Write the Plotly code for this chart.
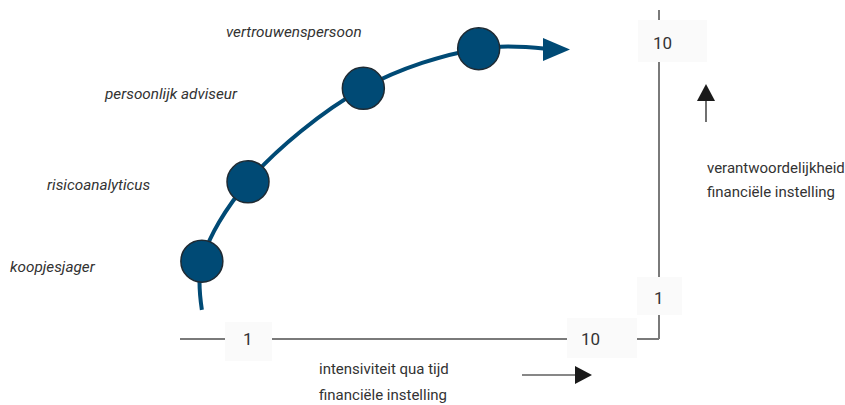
import plotly.graph_objects as go

# rollen van de klant, geplaatst op intensiviteit (x) en verantwoordelijkheid (y), schaal 1-10
rollen = ["koopjesjager", "risicoanalyticus", "persoonlijk adviseur", "vertrouwenspersoon"]
intensiviteit = [-0.2, 1.0, 4.0, 7.0]
verantwoordelijkheid = [2.3, 5.1, 8.4, 9.8]

# verloop van de curve (begin, rollen, einde bij de pijlpunt)
curve_x = [-0.2] + intensiviteit + [8.75]
curve_y = [0.58] + verantwoordelijkheid + [9.8]

schaal_ticks = [1, 10]
schaal_labels = ["1", "10"]

W, H = 845, 405
FONT = "Roboto, sans-serif"
BLAUW = "#004a75"
GRIJS = "#7a7a7a"
TEKST = "#333333"
VLAK = "#fafafa"


def px(x, y):
    # pixelpositie -> paper coördinaten
    return x / W, 1 - y / H


fig = go.Figure()

fig.add_trace(go.Scatter(
    x=curve_x, y=curve_y, mode="lines",
    line=dict(color=BLAUW, width=4, shape="spline", smoothing=1.0),
    hoverinfo="skip",
))
fig.add_trace(go.Scatter(
    x=intensiviteit, y=verantwoordelijkheid, mode="markers",
    marker=dict(size=42, color=BLAUW, line=dict(color="#1e2a33", width=1.5)),
    text=rollen, hoverinfo="text",
))

shapes = []

# assen (L-vorm)
x0, y0 = px(180, 339)
x1, _ = px(659, 339)
shapes.append(dict(type="line", xref="paper", yref="paper", x0=x0, y0=y0, x1=x1, y1=y0,
                   line=dict(color=GRIJS, width=2)))
_, yt = px(659, 10)
shapes.append(dict(type="line", xref="paper", yref="paper", x0=x1, y0=y0, x1=x1, y1=yt,
                   line=dict(color=GRIJS, width=2)))

# lichte vlakken achter de schaalwaarden, die de aslijnen onderbreken
for (bx0, by0, bx1, by1) in [(225, 322, 272, 361), (567, 318, 637, 358),
                             (638, 20, 707, 62), (637, 277, 682, 315)]:
    a, b = px(bx0, by1)
    c, d = px(bx1, by0)
    shapes.append(dict(type="rect", xref="paper", yref="paper", x0=a, y0=b, x1=c, y1=d,
                       fillcolor=VLAK, line=dict(width=0)))


def driehoek(punten, kleur):
    pts = [px(a, b) for a, b in punten]
    path = "M " + " L ".join(f"{a},{b}" for a, b in pts) + " Z"
    return dict(type="path", xref="paper", yref="paper", path=path,
                fillcolor=kleur, line=dict(color=kleur, width=0))


# pijlpunt aan het eind van de curve
shapes.append(driehoek([(543, 38), (570, 49.5), (543, 61)], BLAUW))

# pijl onder de x-as
a, b = px(522, 375)
c, _ = px(577, 375)
shapes.append(dict(type="line", xref="paper", yref="paper", x0=a, y0=b, x1=c, y1=b,
                   line=dict(color="#111111", width=1.2)))
shapes.append(driehoek([(575, 366), (592, 375), (575, 384)], "#1a1a1a"))

# pijl naast de y-as
a, b = px(706, 122)
_, d = px(706, 99)
shapes.append(dict(type="line", xref="paper", yref="paper", x0=a, y0=b, x1=a, y1=d,
                   line=dict(color="#111111", width=1.2)))
shapes.append(driehoek([(697, 101), (706, 84), (715, 101)], "#1a1a1a"))

annotations = []

# schaalwaarden op de assen
as_y = -0.447
as_x = 11.69
for t, lab in zip(schaal_ticks, schaal_labels):
    annotations.append(dict(x=t, y=as_y, xref="x", yref="y", text=lab, showarrow=False,
                            xshift=-4 if lab == "10" else 0,
                            font=dict(family=FONT, size=17, color=TEKST)))
    annotations.append(dict(x=as_x, y=t, xref="x", yref="y", text=lab, showarrow=False,
                            xshift=4 if lab == "10" else 0,
                            font=dict(family=FONT, size=17, color=TEKST)))

# rollabels links van de bolletjes
label_pos = [(8, 267), (45, 185), (102, 94), (224, 32)]
for rol, (lx, ly) in zip(rollen, label_pos):
    ax_, ay_ = px(lx, ly)
    annotations.append(dict(x=ax_, y=ay_, xref="paper", yref="paper", text=rol,
                            showarrow=False, xanchor="left", yanchor="middle",
                            font=dict(family=FONT, size=15.3, color=TEKST, style="italic")))

# astitels
for tekst, (lx, ly) in [("intensiviteit qua tijd", (317, 369)),
                        ("financiële instelling", (317, 395)),
                        ("verantwoordelijkheid", (705, 168)),
                        ("financiële instelling", (705, 192))]:
    ax_, ay_ = px(lx, ly)
    annotations.append(dict(x=ax_, y=ay_, xref="paper", yref="paper", text=tekst,
                            showarrow=False, xanchor="left", yanchor="middle",
                            font=dict(family=FONT, size=15, color=TEKST)))

# as-bereik zo dat 1 en 10 op de juiste pixels vallen (38.44 px/eenheid horizontaal, 28.33 verticaal)
sx, sy = 346 / 9, 255 / 9
xr0 = 1 - 248 / sx
yr1 = 1 + 298 / sy

fig.update_layout(
    width=W, height=H,
    margin=dict(l=0, r=0, t=0, b=0),
    paper_bgcolor="white", plot_bgcolor="white",
    showlegend=False,
    xaxis=dict(range=[xr0, xr0 + W / sx], visible=False, fixedrange=True),
    yaxis=dict(range=[yr1 - H / sy, yr1], visible=False, fixedrange=True),
    shapes=shapes,
    annotations=annotations,
)

# body-marge van de pagina weghalen zodat de figuur precies in het venster past
fig.write_html("out.html", config={"displayModeBar": False},
               post_script="document.body.style.margin='0';")
